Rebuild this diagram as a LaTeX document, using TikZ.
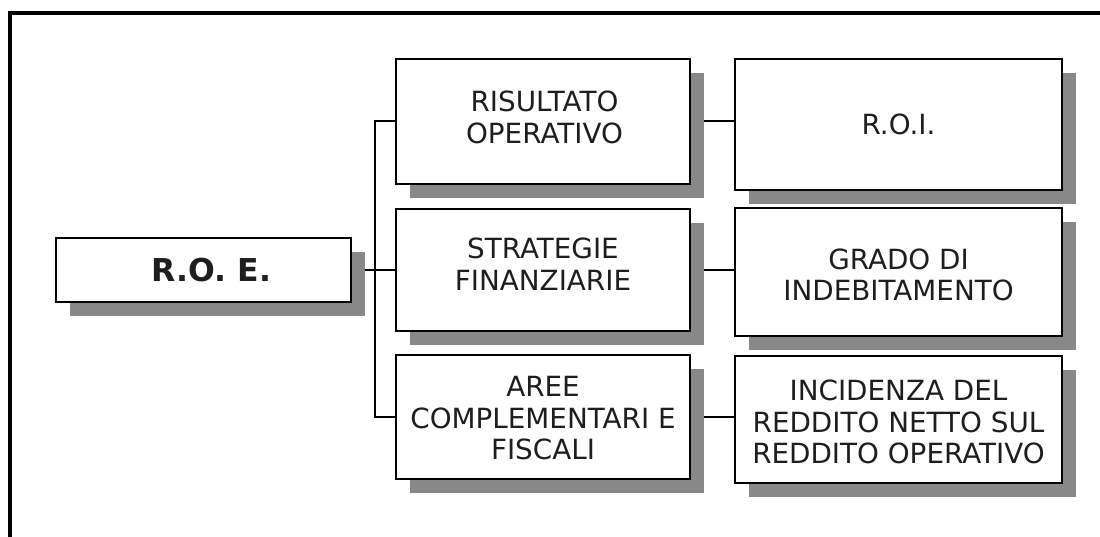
\documentclass[tikz,border=0pt]{standalone}
\usepackage{fontspec}
\setmainfont{DejaVu Sans}
\usetikzlibrary{shadows}
\pgfdeclarelayer{bg}
\pgfsetlayers{bg,main}
\definecolor{shgray}{RGB}{136,136,136}
\definecolor{txt}{RGB}{30,30,30}
\begin{document}
\begin{tikzpicture}[x=1pt,y=-1pt,
  box/.style={draw=black, line width=2.2pt, fill=white, inner sep=0pt,
    drop shadow={shadow xshift=14pt, shadow yshift=-14pt, fill=shgray, opacity=1}},
  midbox/.style={box, minimum width=294pt},
  rightbox/.style={box, minimum width=327pt},
  lbl/.style={align=center, font=\fontsize{27.8}{31.5}\selectfont, text=txt, inner sep=0pt},
  roelbl/.style={align=center, font=\fontsize{31.5}{38}\selectfont\bfseries, text=txt, inner sep=0pt},
  conn/.style={line width=2pt},
  frame/.style={line width=3.5pt}]
\useasboundingbox (0,0) rectangle (1100,537);
\draw[frame] (10,540) -- (10,13) -- (1103,13);
% boxes
\node[box, minimum width=295pt, minimum height=64pt] (roe) at (203.5,270) {};
\node[roelbl] (roet) at ([xshift=8pt]roe.center) {R.O. E.};
\node[midbox, minimum height=125pt] (m1) at (543,121.5) {};
\node[midbox, minimum height=122pt] (m2) at (543,270) {};
\node[midbox, minimum height=124pt] (m3) at (543,417) {};
\node[rightbox, minimum height=131pt] (r1) at (898.5,124.5) {};
\node[rightbox, minimum height=128pt] (r2) at (898.5,272) {};
\node[rightbox, minimum height=127pt] (r3) at (898.5,419.5) {};
% texts
\node[lbl] (m1t) at ([xshift=1.5pt,yshift=4pt]m1.center) {RISULTATO\\OPERATIVO};
\node[lbl] (m2t) at ([yshift=6pt]m2.center) {STRATEGIE\\FINANZIARIE};
\node[lbl] (m3t) at ([yshift=-1.5pt]m3.center) {AREE\\COMPLEMENTARI E\\FISCALI};
\node[lbl] (r1t) at (r1.center) {R.O.I.};
\node[lbl] (r2t) at ([yshift=-3pt]r2.center) {GRADO DI\\INDEBITAMENTO};
\node[lbl] (r3t) at ([yshift=-2.5pt]r3.center) {INCIDENZA DEL\\REDDITO NETTO SUL\\REDDITO OPERATIVO};
% connectors
\begin{pgfonlayer}{bg}
\coordinate (j) at (375,270);
\draw[conn] (roe.east) -- (j);
\draw[conn] (m1.west) -| (j) |- (m3.west);
\draw[conn] (j) -- (m2.west);
\draw[conn] (m1.east) -- (m1.east -| r1.west);
\draw[conn] (m2.east) -- (m2.east -| r2.west);
\draw[conn] (m3.east) -- (m3.east -| r3.west);
\end{pgfonlayer}
\end{tikzpicture}
\end{document}
